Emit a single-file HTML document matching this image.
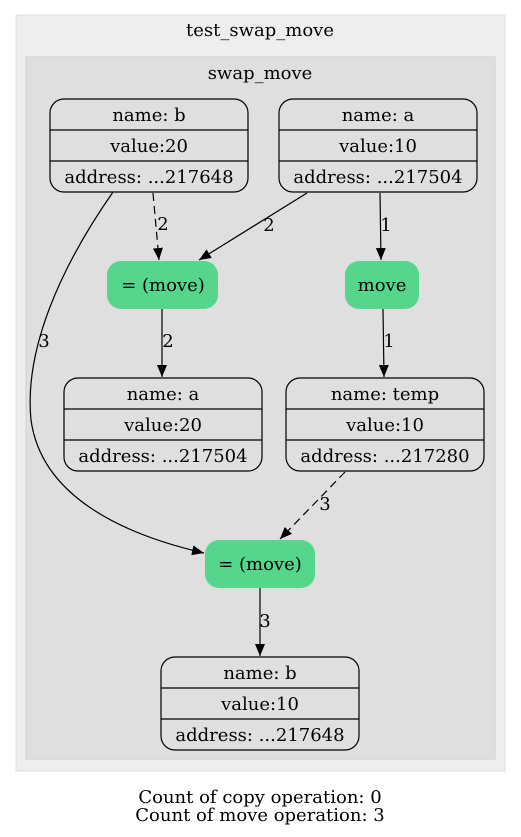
<!DOCTYPE html>
<html><head><meta charset="utf-8"><style>
html,body{margin:0;padding:0;background:#fff;}
svg{display:block;}
text{font-family:"DejaVu Serif",serif;font-size:18px;fill:#000;}
</style></head><body>
<svg width="521" height="837" viewBox="0 0 521 837" xmlns="http://www.w3.org/2000/svg">
<defs>
<marker id="ah" markerWidth="12" markerHeight="10" refX="12" refY="5" orient="auto" markerUnits="userSpaceOnUse">
<path d="M0,0 L12,5 L0,10 Z" fill="#000"/>
</marker>
</defs>
<rect x="16" y="15" width="489" height="756" fill="#eeeeee" stroke="#dddddd"/>
<text x="260" y="36" text-anchor="middle">test_swap_move</text>
<rect x="26" y="57" width="469" height="702" fill="#dfdfdf" stroke="#d0d0d0"/>
<text x="260" y="79" text-anchor="middle">swap_move</text>

<g fill="none" stroke="#000" stroke-width="1.2">
<rect x="50" y="99" width="198" height="93" rx="14"/>
<line x1="50" y1="130" x2="248" y2="130"/><line x1="50" y1="161" x2="248" y2="161"/>
<rect x="279" y="99" width="198" height="93" rx="14"/>
<line x1="279" y1="130" x2="477" y2="130"/><line x1="279" y1="161" x2="477" y2="161"/>
<rect x="64" y="378" width="198" height="93" rx="14"/>
<line x1="64" y1="409" x2="262" y2="409"/><line x1="64" y1="440" x2="262" y2="440"/>
<rect x="286" y="378" width="198" height="93" rx="14"/>
<line x1="286" y1="409" x2="484" y2="409"/><line x1="286" y1="440" x2="484" y2="440"/>
<rect x="161" y="657" width="198" height="93" rx="14"/>
<line x1="161" y1="688" x2="359" y2="688"/><line x1="161" y1="719" x2="359" y2="719"/>
</g>
<text x="149" y="121" text-anchor="middle">name: b</text>
<text x="149" y="152" text-anchor="middle">value:20</text>
<text x="149" y="183" text-anchor="middle">address: ...217648</text>
<text x="378" y="121" text-anchor="middle">name: a</text>
<text x="378" y="152" text-anchor="middle">value:10</text>
<text x="378" y="183" text-anchor="middle">address: ...217504</text>
<text x="163" y="400" text-anchor="middle">name: a</text>
<text x="163" y="431" text-anchor="middle">value:20</text>
<text x="163" y="462" text-anchor="middle">address: ...217504</text>
<text x="385" y="400" text-anchor="middle">name: temp</text>
<text x="385" y="431" text-anchor="middle">value:10</text>
<text x="385" y="462" text-anchor="middle">address: ...217280</text>
<text x="260" y="679" text-anchor="middle">name: b</text>
<text x="260" y="710" text-anchor="middle">value:10</text>
<text x="260" y="741" text-anchor="middle">address: ...217648</text>

<rect x="107" y="261" width="111" height="48" rx="14" fill="#55d68c"/>
<text x="163" y="291" text-anchor="middle">= (move)</text>
<rect x="345" y="261" width="74" height="48" rx="14" fill="#55d68c"/>
<text x="382" y="291" text-anchor="middle">move</text>
<rect x="205" y="540" width="110" height="48" rx="14" fill="#55d68c"/>
<text x="260" y="570" text-anchor="middle">= (move)</text>

<g fill="none" stroke="#000" stroke-width="1.2">
<path d="M153,193 L159,260" stroke-dasharray="8,5" marker-end="url(#ah)"/>
<path d="M307,193 L199,260" marker-end="url(#ah)"/>
<path d="M380,193 L381,260" marker-end="url(#ah)"/>
<path d="M162,309 L162,377" marker-end="url(#ah)"/>
<path d="M383,309 L384,377" marker-end="url(#ah)"/>
<path d="M113,192 C60,268 24,350 31,420 C42,500 130,536 204,553" marker-end="url(#ah)"/>
<path d="M345,472 L280,539" stroke-dasharray="8,5" marker-end="url(#ah)"/>
<path d="M260,588 L260,656" marker-end="url(#ah)"/>
</g>
<text x="163" y="230" text-anchor="middle">2</text>
<text x="269" y="231" text-anchor="middle">2</text>
<text x="386" y="231" text-anchor="middle">1</text>
<text x="168" y="347" text-anchor="middle">2</text>
<text x="389" y="347" text-anchor="middle">1</text>
<text x="44" y="347" text-anchor="middle">3</text>
<text x="325" y="510" text-anchor="middle">3</text>
<text x="265" y="627" text-anchor="middle">3</text>

<text x="260" y="803" text-anchor="middle">Count of copy operation: 0</text>
<text x="260" y="821" text-anchor="middle">Count of move operation: 3</text>
</svg>
</body></html>
